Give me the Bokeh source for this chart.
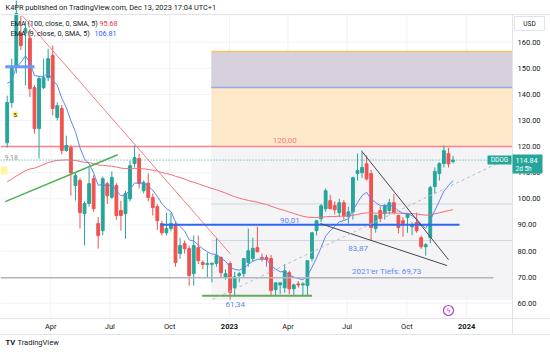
import numpy as np
import pandas as pd
from bokeh.plotting import figure
from bokeh.models import Range1d, FixedTicker, Label, ColumnDataSource, NumeralTickFormatter, BoxAnnotation, Span
from bokeh.embed import file_html
from bokeh.resources import INLINE

FONT = "Roboto"
UP = "#26a69a"
DOWN = "#ef5350"

# ---------------- data (weekly candles, DDOG) ----------------
first_week = "2022-01-24"
n_weeks = 99
opens = [121.5, 136.9, 150.3, 163.5, 163.5, 161.4, 142.6, 126.9, 142.6, 146.4,
         154.9, 131.1, 134.6, 118.5, 119.6, 105.1, 107.0, 94.3, 98.2, 107.7,
         90.5, 87.8, 105.8, 100.6, 105.1, 95.5, 94.3, 100.0, 113.5, 115.4,
         103.1, 106.0, 100.5, 97.0, 90.5, 87.0, 88.6, 90.0, 79.0, 82.8,
         80.9, 71.3, 81.3, 75.6, 74.8, 74.9, 75.2, 77.5, 70.0, 75.2,
         65.9, 70.6, 71.3, 75.6, 77.1, 81.3, 77.5, 77.5, 77.1, 65.2,
         67.0, 65.9, 71.7, 65.5, 67.4, 67.0, 66.7, 77.1, 87.8, 92.4,
         96.2, 99.3, 97.4, 94.7, 98.5, 93.2, 95.0, 109.7, 110.0, 113.4,
         109.7, 88.6, 95.5, 94.3, 95.5, 98.5, 93.6, 91.6, 92.8, 89.3,
         90.9, 85.1, 81.6, 85.1, 104.7, 109.7, 113.5, 117.3, 114.3]
highs = [139.5, 153.7, 178.0, 170.0, 168.0, 165.0, 143.5, 147.0, 153.7, 157.5,
         158.7, 137.0, 136.0, 124.2, 120.5, 110.0, 108.0, 99.0, 112.0, 109.0,
         93.0, 108.5, 106.5, 110.5, 106.0, 99.3, 103.0, 114.6, 120.4, 117.3,
         107.0, 109.7, 102.0, 98.0, 91.5, 94.7, 94.7, 91.0, 85.0, 84.0,
         82.0, 86.0, 85.9, 76.5, 79.4, 75.5, 85.1, 78.0, 73.0, 76.0,
         72.0, 72.0, 73.0, 88.6, 85.1, 89.3, 79.0, 78.5, 78.5, 67.0,
         68.0, 75.0, 72.5, 67.5, 68.5, 68.0, 68.0, 87.0, 92.0, 98.0,
         104.0, 101.5, 99.0, 100.0, 99.5, 97.0, 108.5, 117.3, 118.5, 116.6,
         111.0, 94.0, 97.0, 98.0, 100.0, 101.9, 94.0, 93.0, 94.0, 91.0,
         94.7, 86.0, 83.0, 105.0, 112.0, 114.0, 120.4, 119.5, 116.5]
lows = [119.6, 134.9, 148.0, 157.0, 143.4, 139.0, 125.0, 115.4, 142.0, 145.0,
        131.9, 130.0, 117.0, 118.0, 101.2, 99.3, 88.6, 82.1, 97.0, 95.0,
        80.9, 86.0, 98.0, 100.0, 92.0, 87.8, 84.7, 99.0, 112.0, 104.0,
        102.0, 99.0, 93.6, 88.0, 86.0, 86.0, 87.5, 74.0, 77.0, 79.0,
        66.7, 66.7, 75.0, 73.0, 69.8, 68.0, 74.0, 70.0, 69.0, 61.34,
        63.0, 68.0, 70.0, 74.0, 76.0, 79.5, 76.0, 74.0, 63.0, 63.0,
        63.5, 64.0, 63.5, 62.8, 66.0, 62.8, 62.8, 76.0, 86.0, 91.0,
        95.0, 96.0, 94.0, 93.0, 92.0, 90.5, 92.0, 107.0, 108.0, 107.0,
        83.87, 87.0, 91.0, 92.0, 94.0, 94.0, 86.8, 85.5, 87.0, 86.0,
        87.0, 80.8, 78.2, 83.0, 102.0, 107.0, 112.0, 112.0, 113.5]
closes = [136.9, 150.3, 171.0, 158.7, 165.2, 142.2, 126.9, 146.1, 146.4, 153.7,
          134.6, 135.7, 118.5, 120.4, 110.0, 108.9, 94.7, 98.2, 105.8, 96.2,
          85.9, 107.7, 101.2, 108.2, 93.6, 93.6, 102.0, 112.7, 115.8, 105.8,
          106.2, 100.5, 96.6, 91.6, 87.0, 88.6, 90.5, 75.6, 82.1, 80.9,
          70.6, 82.1, 76.3, 74.8, 75.2, 75.3, 78.2, 71.7, 71.3, 64.1,
          70.1, 71.3, 77.1, 80.1, 81.0, 79.7, 77.1, 76.8, 64.8, 67.8,
          67.8, 72.4, 65.5, 67.0, 67.0, 67.4, 76.3, 87.0, 91.6, 97.3,
          103.1, 96.2, 95.8, 98.5, 93.5, 95.0, 108.1, 110.8, 112.0, 107.6,
          89.0, 93.6, 92.4, 97.4, 98.5, 94.7, 89.0, 90.5, 94.3, 90.0,
          87.8, 81.6, 82.4, 104.3, 110.5, 113.5, 118.4, 113.4, 114.84]

ema9_seed = 146.0
ema100_seed = 106.0
last_price = 114.84

price_ticks = [60, 70, 80, 90, 100, 110, 120, 130, 140, 150, 160]
time_ticks = ["2022-04-01", "2022-07-01", "2022-10-01", "2023-01-01",
              "2023-04-01", "2023-07-01", "2023-10-01", "2024-01-01"]
time_labels = ["Apr", "Jul", "Oct", "2023", "Apr", "Jul", "Oct", "2024"]

# pane / axis geometry (data units)
x_view = ("2022-01-13 16:30", "2024-05-09 00:00")
y_view = (41.11, 175.98)
price_scale_at = "2024-03-11 14:00"     # time where the price scale starts
pane_top, pane_bottom, time_scale_bottom = 170.6, 54.14, 48.0

# drawings (date, price)
red_trend = (["2022-02-16", "2023-01-02"], [170.2, 79.0])
green_trend = (["2022-01-21", "2022-07-13"], [98.9, 116.9])
blue_short = (["2022-01-21", "2022-03-07"], [150.6, 150.6])
blue_level = (["2022-09-17", "2023-12-21"], [90.01, 90.01])
green_floor = (["2022-11-20", "2023-05-08"], [62.9, 62.9])
low_2021 = (["2022-01-13 16:30", "2024-02-11"], [69.73, 69.73])
wedge_top = (["2023-07-24", "2023-12-04"], [118.1, 76.7])
wedge_bot = (["2023-05-21", "2023-12-02"], [90.5, 74.4])
dashed_trend = (["2022-12-06", "2024-02-17"], [61.4, 113.5])
zone_left = "2022-12-04"
zone_levels = [156.4, 142.6, 120.0, 61.2]
zone_inner = [98.0, 84.0]

# ---------------- figure ----------------
ms = lambda d: pd.Timestamp(d).value // 10**6
T = lambda lst: [pd.Timestamp(d) for d in lst]
dates = pd.date_range(first_week, periods=n_weeks, freq="7D")
x0, x1 = pd.Timestamp(x_view[0]), pd.Timestamp(x_view[1])
xs = pd.Timestamp(price_scale_at)

p = figure(width=550, height=352, x_axis_type="datetime", y_axis_location="right",
           x_range=Range1d(x0, x1), y_range=Range1d(*y_view),
           output_backend="svg", toolbar_location=None,
           min_border_left=0, min_border_right=0, min_border_top=0, min_border_bottom=0)
p.title.visible = False
p.background_fill_color = "white"
p.border_fill_color = "white"
p.outline_line_color = None
p.grid.visible = False

# price axis (fixed at the right edge of the pane)
p.yaxis.fixed_location = ms(xs)
p.yaxis.bounds = (time_scale_bottom, pane_top)
p.yaxis.ticker = FixedTicker(ticks=price_ticks)
p.yaxis.formatter = NumeralTickFormatter(format="0.00")
p.yaxis.major_label_text_font = FONT
p.yaxis.major_label_text_font_size = "7.5px"
p.yaxis.major_label_text_color = "#131722"
p.yaxis.major_tick_line_color = None
p.yaxis.major_tick_out = 0
p.yaxis.major_tick_in = 0
p.yaxis.minor_tick_line_color = None
p.yaxis.axis_line_color = "#e0e3eb"
p.yaxis.major_label_standoff = 5

# time axis (fixed at the bottom of the pane)
tick_ms = [ms(d) for d in time_ticks]
p.xaxis.fixed_location = pane_bottom
p.xaxis.ticker = FixedTicker(ticks=tick_ms)
p.xaxis.major_label_overrides = {t: (lab if not lab.isdigit() else "") for t, lab in zip(tick_ms, time_labels)}
p.xaxis.major_label_text_font = FONT
p.xaxis.major_label_text_font_size = "7.5px"
p.xaxis.major_label_text_color = "#131722"
p.xaxis.major_tick_line_color = None
p.xaxis.major_tick_out = 0
p.xaxis.major_tick_in = 0
p.xaxis.minor_tick_line_color = None
p.xaxis.axis_line_color = "#e0e3eb"
p.xaxis.major_label_standoff = 4

# borders
p.add_layout(Span(location=pane_top, dimension="width", line_color="#e0e3eb", line_width=1))
p.add_layout(Span(location=time_scale_bottom, dimension="width", line_color="#e0e3eb", line_width=1))

# grid lines (pane only)
p.segment(x0=T(time_ticks), x1=T(time_ticks), y0=[pane_bottom] * len(time_ticks),
          y1=[pane_top] * len(time_ticks), color="#f0f2f6", line_width=1)
p.segment(x0=[x0] * len(price_ticks), x1=[xs] * len(price_ticks), y0=price_ticks, y1=price_ticks,
          color="#f0f2f6", line_width=1)

# zones
zl = pd.Timestamp(zone_left)
p.quad(left=[zl], right=[xs], top=[zone_levels[0]], bottom=[zone_levels[1]], fill_color="#d6d1da", line_color=None)
p.quad(left=[zl], right=[xs], top=[zone_levels[1]], bottom=[zone_levels[2]], fill_color="#fde8c9", line_color=None)
p.quad(left=[zl], right=[xs], top=[zone_levels[2]], bottom=[zone_levels[3]], fill_color="#f4f4f7", line_color=None)
p.line([zl, xs], [zone_levels[0]] * 2, color="#f5c26b", line_width=1.5)
p.line([zl, xs], [zone_levels[1]] * 2, color="#94a8ea", line_width=1.5)
for lv in zone_inner:
    p.line([zl, xs], [lv, lv], color="#d1d4dc", line_width=1)
p.line([x0, xs], [120, 120], color="#f7848c", line_width=1.5)

# candles
df = pd.DataFrame(dict(date=dates, open=opens, high=highs, low=lows, close=closes))
df["color"] = np.where(df.close >= df.open, UP, DOWN)
src = ColumnDataSource(df)
W = 0.62 * 7 * 86400000
p.segment("date", "high", "date", "low", color="color", line_width=1, source=src)
p.vbar(x="date", width=W, top="open", bottom="close", fill_color="color", line_color="color", source=src)

# EMAs
def ema(vals, n, seed):
    a = 2.0 / (n + 1)
    e = seed
    out = []
    for v in vals:
        e = e + a * (v - e)
        out.append(e)
    return out

p.line(dates, ema(closes, 100, ema100_seed), color="#f26d78", line_width=1)
p.line(dates, ema(closes, 9, ema9_seed), color="#5b87f2", line_width=1)

# drawings
p.line(T(red_trend[0]), red_trend[1], color="#f47d85", line_width=1)
p.line(T(green_trend[0]), green_trend[1], color="#4caf50", line_width=1.5)
p.line(T(blue_short[0]), blue_short[1], color="#6e97f3", line_width=3)
p.line(T(blue_level[0]), blue_level[1], color="#2f66f5", line_width=2)
p.line(T(green_floor[0]), green_floor[1], color="#66a85c", line_width=2)
p.line(T(low_2021[0]), low_2021[1], color="#b2b5be", line_width=1.5)
p.line(T(wedge_top[0]), wedge_top[1], color="#434651", line_width=1)
p.line(T(wedge_bot[0]), wedge_bot[1], color="#434651", line_width=1)
p.line(T(dashed_trend[0]), dashed_trend[1], color="#b8bbc4", line_width=1, line_dash="3 3")
p.line([x0, xs], [last_price] * 2, color="#26a69a", line_width=1, line_dash="1 2")

p.scatter([pd.Timestamp("2023-12-04")], [57.2], marker="circle", size=10,
          line_color="#ab47bc", fill_color="white", line_width=1.2)

def dlabel(x, y, text, color, size="8px", align="center", baseline="middle", font=FONT):
    p.add_layout(Label(x=ms(x), y=y, text=text, text_color=color, text_font=font,
                       text_font_size=size, text_align=align, text_baseline=baseline))

dlabel("2023-12-04", 57.2, "ϟ", "#ab47bc", size="7px", font="DejaVu Sans")
dlabel("2023-03-27", 122.4, "120,00", "#f47d85")
dlabel("2023-04-04", 91.8, "90,01", "#5b87f2")
dlabel("2023-07-18", 81.0, "83,87", "#5b87f2")
dlabel("2023-08-31", 72.1, "2021'er Tiefs: 69,73", "#5b87f2")
dlabel("2023-01-10", 59.4, "61,34", "#5b87f2")

H = 352

def slabel(x, yc, text, color, size="7.5px", align="left", bold=False, **kw):
    p.add_layout(Label(x=x, y=H - yc, x_units="screen", y_units="screen", text=text,
                       text_color=color, text_font=FONT, text_font_size=size,
                       text_align=align, text_baseline="middle",
                       text_font_style="bold" if bold else "normal", **kw))

def sbox(l, r, t, b, color, line=None):
    p.add_layout(BoxAnnotation(left=l, right=r, top=H - t, bottom=H - b, left_units="screen",
                               right_units="screen", top_units="screen", bottom_units="screen",
                               fill_color=color, fill_alpha=1, line_color=line, line_width=1,
                               line_alpha=1))

# header + legend
slabel(5, 7, "K4PR published on TradingView.com, Dec 13, 2023 17:04 UTC+1", "#131722", "7.4px")
slabel(10, 23, "EMA (100, close, 0, SMA, 5)", "#131722", "7.2px")
slabel(99, 23, "95.68", "#f23645", "7.2px")
slabel(10, 33, "EMA (9, close, 0, SMA, 5)", "#131722", "7.2px")
slabel(94, 33, "106.81", "#2962ff", "7.2px")
slabel(4, 157, "9,18", "#9598a1", "7.2px")
slabel(12, 114, "5", "#131722", "6px", background_fill_color="#fff176", padding=1)
sbox(0, 7, 166, 174, "#fff59d")

# year labels (bold) on time axis
for t, lab in zip(time_ticks, time_labels):
    if lab.isdigit():
        p.add_layout(Label(x=ms(t), y=H - 326, y_units="screen", text=lab, text_color="#131722",
                           text_font=FONT, text_font_size="7.5px", text_font_style="bold",
                           text_align="center", text_baseline="middle"))

# price-axis extras
sbox(514, 544, 16, 30, "white", line="#e0e3eb")
slabel(529, 23, "USD", "#131722", "6.5px", align="center")
sbox(487, 511, 155, 164, "#26a69a")
slabel(499, 159.5, "DDOG", "white", "6.5px", align="center")
sbox(512, 542, 154, 173, "#26a69a")
slabel(515, 160, "114.84", "white", "7.2px")
slabel(515, 168.5, "2d 5h", "white", "6.5px")

# footer
slabel(5, 342, "TV", "#131722", "7.5px", bold=True)
slabel(17, 342, "TradingView", "#131722", "7.5px")

open("out.html", "w").write(file_html(p, INLINE))
